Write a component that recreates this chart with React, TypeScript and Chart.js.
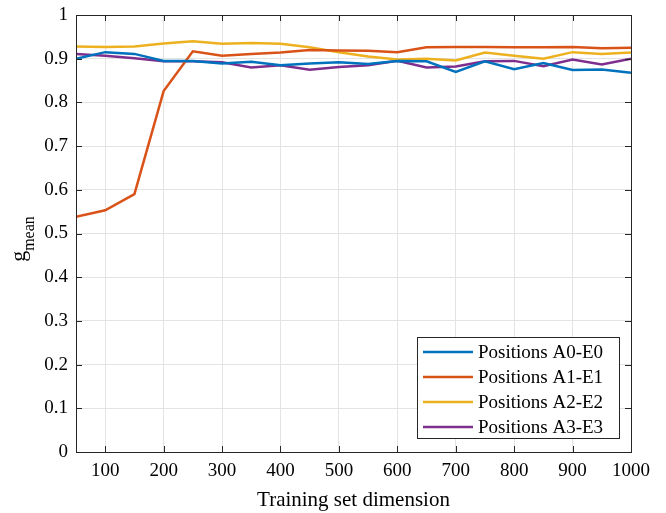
import React, { useEffect, useRef } from "react";
import Chart from "chart.js/auto";

const xValues = [50, 100, 150, 200, 250, 300, 350, 400, 450, 500, 550, 600, 650, 700, 750, 800, 850, 900, 950, 1000];
const xTicks = [100, 200, 300, 400, 500, 600, 700, 800, 900, 1000];
const yTicks = [0, 0.1, 0.2, 0.3, 0.4, 0.5, 0.6, 0.7, 0.8, 0.9, 1];

const seriesA0 = [0.9, 0.915, 0.911, 0.895, 0.895, 0.889, 0.893, 0.885, 0.889, 0.892, 0.888, 0.895, 0.894, 0.87, 0.894, 0.876, 0.89, 0.874, 0.875, 0.868];
const seriesA1 = [0.538, 0.553, 0.59, 0.826, 0.917, 0.907, 0.911, 0.914, 0.92, 0.919, 0.918, 0.915, 0.926, 0.927, 0.927, 0.926, 0.926, 0.927, 0.924, 0.925];
const seriesA2 = [0.928, 0.927, 0.928, 0.935, 0.94, 0.934, 0.936, 0.934, 0.926, 0.915, 0.905, 0.898, 0.9, 0.896, 0.914, 0.907, 0.9, 0.915, 0.911, 0.914];
const seriesA3 = [0.911, 0.907, 0.901, 0.894, 0.894, 0.892, 0.88, 0.885, 0.875, 0.881, 0.885, 0.895, 0.88, 0.882, 0.894, 0.895, 0.883, 0.898, 0.887, 0.9];

const seriesNames = ["Positions A0-E0", "Positions A1-E1", "Positions A2-E2", "Positions A3-E3"];
const seriesColors = ["#0072BD", "#D95319", "#EDB120", "#7E2F8E"];
const seriesValues = [seriesA0, seriesA1, seriesA2, seriesA3];

const FONT = "'Liberation Serif', 'Times New Roman', serif";
const AXIS = "#262626";

export default function App() {
  const ref = useRef<HTMLCanvasElement | null>(null);

  useEffect(() => {
    if (!ref.current) return;
    const decor = {
      id: "decor",
      afterDraw(chart: any) {
        const { ctx, chartArea } = chart;
        const { left, right, top, bottom } = chartArea;
        const xs = chart.scales.x;
        const ys = chart.scales.y;
        ctx.save();
        // box
        ctx.strokeStyle = AXIS;
        ctx.lineWidth = 1;
        ctx.strokeRect(Math.round(left) + 0.5, Math.round(top) + 0.5, Math.round(right - left), Math.round(bottom - top));
        // inward ticks
        const tl = 6;
        ctx.beginPath();
        xTicks.forEach((v) => {
          const px = Math.round(xs.getPixelForValue(v)) + 0.5;
          ctx.moveTo(px, bottom);
          ctx.lineTo(px, bottom - tl);
          ctx.moveTo(px, top);
          ctx.lineTo(px, top + tl);
        });
        yTicks.forEach((v) => {
          const py = Math.round(ys.getPixelForValue(v)) + 0.5;
          ctx.moveTo(left, py);
          ctx.lineTo(left + tl, py);
          ctx.moveTo(right, py);
          ctx.lineTo(right - tl, py);
        });
        ctx.stroke();

        // legend
        const lx = 417, ly = 337, lw = 202, lh = 101;
        ctx.fillStyle = "#ffffff";
        ctx.fillRect(lx, ly, lw, lh);
        ctx.strokeStyle = AXIS;
        ctx.lineWidth = 1;
        ctx.strokeRect(lx + 0.5, ly + 0.5, lw, lh);
        ctx.font = `19px ${FONT}`;
        ctx.textBaseline = "middle";
        ctx.textAlign = "left";
        seriesNames.forEach((name, i) => {
          const yy = ly + 15 + i * 25;
          ctx.strokeStyle = seriesColors[i];
          ctx.lineWidth = 2.5;
          ctx.beginPath();
          ctx.moveTo(lx + 6, yy);
          ctx.lineTo(lx + 56, yy);
          ctx.stroke();
          ctx.fillStyle = "#000";
          ctx.fillText(name, lx + 61, yy + 1);
        });

        // y label g_mean
        ctx.translate(25, 239);
        ctx.rotate(-Math.PI / 2);
        ctx.fillStyle = "#000";
        ctx.textBaseline = "alphabetic";
        ctx.font = `22px ${FONT}`;
        const gW = ctx.measureText("g").width;
        ctx.font = `16px ${FONT}`;
        const mW = ctx.measureText("mean").width;
        const total = gW + mW;
        ctx.font = `22px ${FONT}`;
        ctx.fillText("g", -total / 2, 0);
        ctx.font = `16px ${FONT}`;
        ctx.fillText("mean", -total / 2 + gW, 9);
        ctx.restore();
      },
    };

    const chart = new Chart(ref.current, {
      type: "line",
      data: {
        labels: xValues,
        datasets: seriesValues.map((vals, i) => ({
          label: seriesNames[i],
          data: vals.map((v, j) => ({ x: xValues[j], y: v })),
          borderColor: seriesColors[i],
          backgroundColor: seriesColors[i],
          borderWidth: 2.5,
          pointRadius: 0,
          tension: 0,
          fill: false,
        })),
      },
      plugins: [decor],
      options: {
        animation: false,
        responsive: false,
        maintainAspectRatio: false,
        layout: { padding: { top: 15, right: 35, left: 0, bottom: 0 } },
        plugins: { legend: { display: false }, tooltip: { enabled: false } },
        scales: {
          x: {
            type: "linear",
            min: 50,
            max: 1000,
            afterBuildTicks: (scale: any) => {
              scale.ticks = xTicks.map((v) => ({ value: v }));
            },
            afterFit: (scale: any) => {
              scale.height = 61;
            },
            grid: { color: "#e3e3e3", drawTicks: false, lineWidth: 1 },
            border: { display: false },
            ticks: {
              padding: 8,
              color: "#000",
              font: { family: FONT, size: 19 },
              maxRotation: 0,
              autoSkip: false,
              callback: (v: any) => String(v),
            },
            title: {
              display: true,
              text: "Training set dimension",
              color: "#000",
              font: { family: FONT, size: 21 },
              padding: { top: 0, bottom: 0 },
            },
          },
          y: {
            type: "linear",
            min: 0,
            max: 1,
            afterBuildTicks: (scale: any) => {
              scale.ticks = yTicks.map((v) => ({ value: v }));
            },
            afterFit: (scale: any) => {
              scale.width = 76;
              scale.paddingTop = 0;
              scale.paddingBottom = 0;
            },
            grid: { color: "#e3e3e3", drawTicks: false, lineWidth: 1 },
            border: { display: false },
            ticks: {
              padding: 8,
              color: "#000",
              font: { family: FONT, size: 19 },
              callback: (v: any) => String(Math.round(Number(v) * 10) / 10),
            },
          },
        },
      },
    });
    return () => chart.destroy();
  }, []);

  return (
    <div style={{ position: "fixed", left: 0, top: 0, width: 666, height: 513, background: "#fff" }}>
      <canvas ref={ref} width={666} height={513} style={{ width: 666, height: 513 }} />
    </div>
  );
}
